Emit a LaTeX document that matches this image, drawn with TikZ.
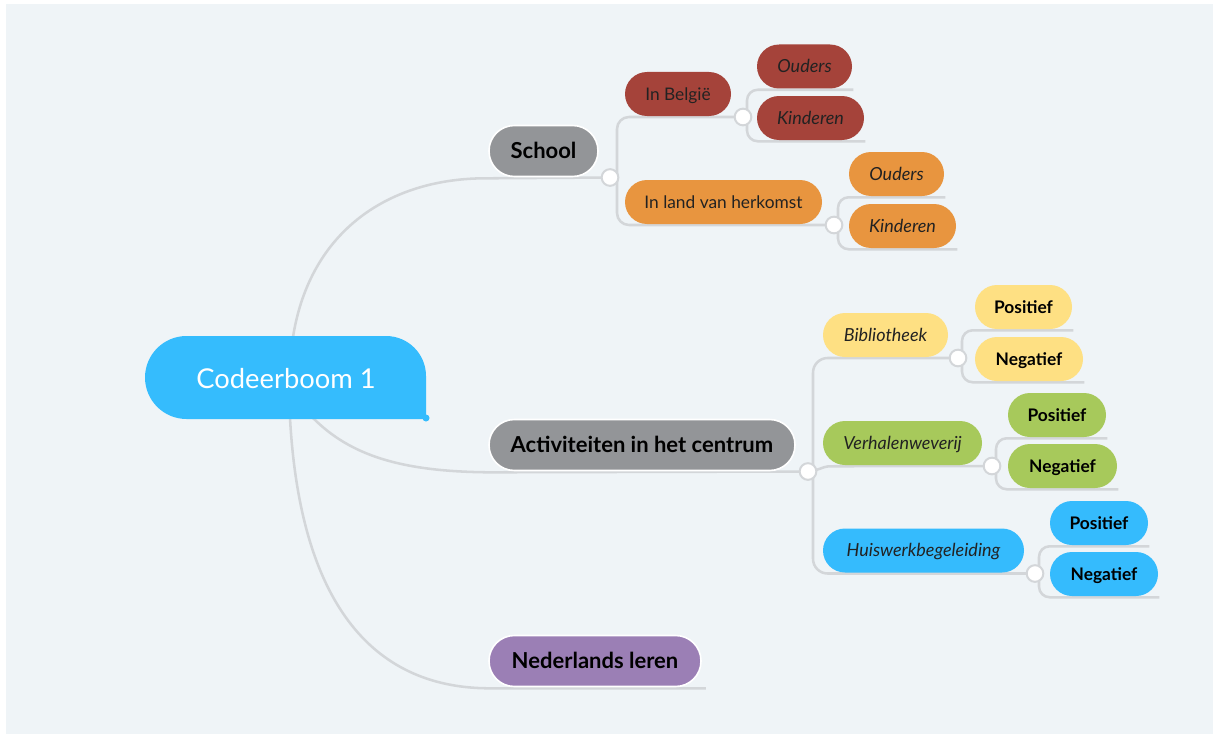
\documentclass[tikz,border=0pt]{standalone}
\usepackage{fontspec}
\setmainfont{Lato}
\usetikzlibrary{calc}
\definecolor{bgc}{HTML}{EFF4F7}
\definecolor{rootblue}{HTML}{35BCFD}
\definecolor{gray1}{HTML}{939598}
\definecolor{purp}{HTML}{9B7FB5}
\definecolor{darkred}{HTML}{A5433A}
\definecolor{orng}{HTML}{E8953F}
\definecolor{yell}{HTML}{FEE083}
\definecolor{grn}{HTML}{A7C95B}
\definecolor{blu}{HTML}{35BBFD}
\definecolor{linec}{HTML}{D3D6D9}
\definecolor{txt}{HTML}{222222}
\pgfdeclarelayer{back}
\pgfdeclarelayer{background}
\pgfsetlayers{back,background,main}
\begin{document}
\begin{tikzpicture}[x=0.75pt,y=-0.75pt,
  lvlone/.style={rectangle, rounded corners=19pt, minimum height=38.25pt, inner sep=0pt, text height=11.9pt, text depth=0pt, draw=white, line width=1.2pt, font=\fontsize{16.5}{19}\selectfont\bfseries, text=black},
  lvltwo/.style={rectangle, rounded corners=16.5pt, minimum height=33pt, inner sep=0pt, text height=9.4pt, text depth=0pt, font=\fontsize{13}{15}\selectfont, text=txt},
  lvlit/.style={lvltwo, text height=9.7pt, font=\fontsize{13.5}{15}\selectfont\itshape},
  lvlbold/.style={lvltwo, font=\fontsize{13}{15}\selectfont\bfseries, text=black},
  knob/.style={circle, fill=white, draw=linec, line width=1.5pt, minimum size=12.5pt, inner sep=0pt},
  conn/.style={draw=linec, line width=1.9pt}
]
\useasboundingbox (0,0) rectangle (1213,735);
\begin{pgfonlayer}{back}
\fill[bgc] (6,4) rectangle (1213,734);
\end{pgfonlayer}

% root
\fill[rootblue] (186.5,336) -- (386,336) .. controls (408.1,336) and (426,353.9) .. (426,376) -- (426,419) -- (186.5,419) .. controls (163.6,419) and (145,400.4) .. (145,377.5) .. controls (145,354.6) and (163.6,336) .. (186.5,336) -- cycle;
\fill[rootblue] (426,418) circle[radius=3.5];
\node[text=white, font=\fontsize{20.5}{24}\selectfont, inner sep=0pt, text height=14.8pt, text depth=0pt] (root) at (286,379) {Codeerboom 1};
\coordinate (rootA) at (293,337);
\coordinate (rootB) at (313,418);
\coordinate (rootC) at (290,418);

% level 1
\node[lvlone, fill=gray1, minimum width=81.75pt] (school) at (543.5,151) {School};
\node[lvlone, fill=gray1, minimum width=229.5pt] (act) at (642,445) {Activiteiten in het centrum};
\node[lvlone, fill=purp, minimum width=159pt] (ned) at (595,661) {Nederlands leren};

% level 2
\node[lvltwo, fill=darkred, minimum width=79.5pt] (bel) at (678,94) {In België};
\node[lvltwo, fill=orng, minimum width=147.75pt] (land) at (723.5,202) {In land van herkomst};
\node[lvlit, fill=yell, minimum width=93.75pt] (bib) at (885.5,335) {Bibliotheek};
\node[lvlit, fill=grn, minimum width=119.25pt] (verh) at (902.5,443) {Verhalenweverij};
\node[lvlit, fill=blu, minimum width=150.75pt] (huis) at (923.5,550.5) {Huiswerkbegeleiding};

% level 3
\node[lvlit, fill=darkred, minimum width=71.25pt] (belouders) at (804.5,66.5) {Ouders};
\node[lvlit, fill=darkred, minimum width=80.25pt] (belkind) at (810.5,118) {Kinderen};
\node[lvlit, fill=orng, minimum width=71.25pt] (landouders) at (896.5,174) {Ouders};
\node[lvlit, fill=orng, minimum width=80.25pt] (landkind) at (902.5,226) {Kinderen};
\node[lvlbold, fill=yell, minimum width=72.75pt] (bibpos) at (1023.5,307) {Positief};
\node[lvlbold, fill=yell, minimum width=81pt] (bibneg) at (1029,359) {Negatief};
\node[lvlbold, fill=grn, minimum width=73.5pt] (verhpos) at (1057,415) {Positief};
\node[lvlbold, fill=grn, minimum width=81.75pt] (verhneg) at (1062.5,466) {Negatief};
\node[lvlbold, fill=blu, minimum width=73.5pt] (huispos) at (1099,523) {Positief};
\node[lvlbold, fill=blu, minimum width=81pt] (huisneg) at (1104,574) {Negatief};

% knobs
\node[knob] (schoolc) at (610,177.5) {};
\node[knob] (actc) at (808,471.5) {};
\node[knob] (belc) at (743,117) {};
\node[knob] (landc) at (834,225) {};
\node[knob] (bibc) at (958,358) {};
\node[knob] (verhc) at (992,466) {};
\node[knob] (huisc) at (1035,573.5) {};

\begin{pgfonlayer}{background}
% root connectors
\draw[conn] (rootA) .. controls (310,230) and (390,177.5) .. ($(school.south west)+(0,1)$) -- (schoolc.center);
\draw[conn] (rootB) .. controls (350,455) and (400,471.5) .. ($(act.south west)+(0,1)$) -- (actc.center);
\draw[conn] (rootC) .. controls (300,600) and (370,687.5) .. ($(ned.south west)+(0,1)$) -- ($(ned.south east)+(4,1)$);
% school branches
\draw[conn, rounded corners=9pt] ($(schoolc)+(7,0)$) |- (belc.center);
\draw[conn, rounded corners=9pt] ($(schoolc)+(7,0)$) |- (landc.center);
\draw[conn, rounded corners=8pt] ($(belc)+(4,0)$) |- ($(belouders.south east)+(1,1)$);
\draw[conn, rounded corners=8pt] ($(belc)+(4,0)$) |- ($(belkind.south east)+(1,1)$);
\draw[conn, rounded corners=8pt] ($(landc)+(4,0)$) |- ($(landouders.south east)+(1,1)$);
\draw[conn, rounded corners=8pt] ($(landc)+(4,0)$) |- ($(landkind.south east)+(1,1)$);
% activiteiten branches
\draw[conn, rounded corners=11pt] ($(actc)+(5,0)$) |- (bibc.center);
\draw[conn, rounded corners=11pt] ($(actc)+(5,0)$) |- (huisc.center);
\draw[conn] (actc.center) to[out=0,in=180] ($(verh.south west)+(8,1)$) -- (verhc.center);
\draw[conn, rounded corners=8pt] ($(bibc)+(4,0)$) |- ($(bibpos.south east)+(1,1)$);
\draw[conn, rounded corners=8pt] ($(bibc)+(4,0)$) |- ($(bibneg.south east)+(1,1)$);
\draw[conn, rounded corners=8pt] ($(verhc)+(4,0)$) |- ($(verhpos.south east)+(1,1)$);
\draw[conn, rounded corners=8pt] ($(verhc)+(4,0)$) |- ($(verhneg.south east)+(1,1)$);
\draw[conn, rounded corners=8pt] ($(huisc)+(4,0)$) |- ($(huispos.south east)+(1,1)$);
\draw[conn, rounded corners=8pt] ($(huisc)+(4,0)$) |- ($(huisneg.south east)+(1,1)$);
\end{pgfonlayer}
\end{tikzpicture}
\end{document}
